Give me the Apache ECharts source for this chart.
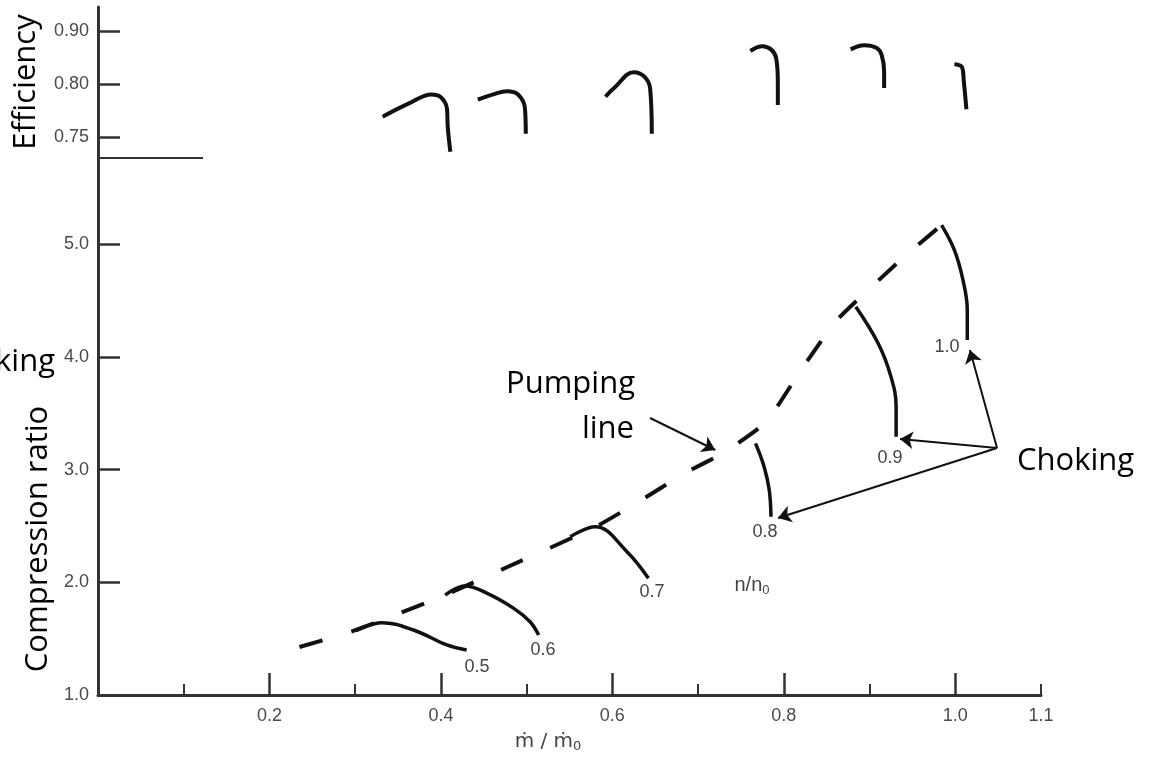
<!DOCTYPE html>
<html>
<head>
<meta charset="utf-8">
<title>Compressor map</title>
<script src="https://cdn.jsdelivr.net/npm/echarts@6/dist/echarts.min.js"></script>
<style>
html,body{margin:0;padding:0;background:#fff;}
#mapWrap{width:1155px;height:760px;}
</style>
</head>
<body>
<div id="mapWrap"></div>
<script>
// speed lines n/n0
var speedNames = ['0.5','0.6','0.7','0.8','0.9','1.0'];

// compression ratio lines, [m/m0, ratio]
var pr05 = [[0.301,1.571],[0.331,1.642],[0.368,1.577],[0.407,1.444],[0.430,1.399]];
var pr06 = [[0.405,1.887],[0.428,1.967],[0.454,1.902],[0.485,1.769],[0.504,1.650],[0.514,1.532]];
var pr07 = [[0.551,2.405],[0.580,2.493],[0.617,2.272],[0.642,2.036]];
var pr08 = [[0.767,3.233],[0.777,3.026],[0.783,2.819],[0.785,2.582]];
var pr09 = [[0.884,4.446],[0.910,4.121],[0.925,3.824],[0.931,3.558],[0.931,3.292]];
var pr10 = [[0.984,5.170],[0.999,4.948],[1.009,4.682],[1.014,4.416],[1.014,4.150]];

// pumping (surge) line
var pumpLine = [[0.235,1.426],[0.301,1.577],[0.405,1.887],[0.475,2.127],[0.580,2.491],[0.630,2.712],
	[0.685,2.970],[0.729,3.147],[0.779,3.422],[0.820,3.884],[0.859,4.301],[0.876,4.434],[0.940,4.886],[0.984,5.170]];

// efficiency lines, [m/m0, efficiency]
var eta05 = [[0.332,0.769],[0.364,0.782],[0.389,0.790],[0.399,0.788],[0.407,0.777],[0.408,0.759],[0.411,0.736]];
var eta06 = [[0.443,0.785],[0.461,0.790],[0.477,0.793],[0.490,0.790],[0.498,0.777],[0.499,0.753]];
var eta07 = [[0.592,0.788],[0.602,0.796],[0.625,0.822],[0.637,0.814],[0.644,0.796],[0.646,0.753]];
var eta08 = [[0.761,0.862],[0.775,0.871],[0.785,0.865],[0.791,0.849],[0.793,0.804],[0.793,0.780]];
var eta09 = [[0.878,0.865],[0.894,0.873],[0.908,0.868],[0.914,0.855],[0.917,0.823],[0.917,0.796]];
var eta10 = [[0.999,0.837],[1.008,0.831],[1.010,0.804],[1.013,0.776]];

// ticks
var xMajor = [0.2,0.4,0.6,0.8,1.0];
var xLabels = [0.2,0.4,0.6,0.8,1.0,1.1];
var xMinor = [0.1,0.3,0.5,0.7,0.9,1.1];
var prTicks = [1.0,2.0,3.0,4.0,5.0];
var etaTicks = [0.75,0.80,0.90];

var prLines = [pr05,pr06,pr07,pr08,pr09,pr10];
var etaLines = [eta05,eta06,eta07,eta08,eta09,eta10];

// the efficiency scale of the original is uneven: ticks sit at equal steps
var etaToAxis = function(e){
	var i = e <= etaTicks[1] ? 0 : 1;
	return i + (e - etaTicks[i]) / (etaTicks[i+1] - etaTicks[i]);
};

var initChart = function(){
	var myChart = echarts.init(document.getElementById('mapWrap'), null, {renderer:'canvas'});
	var ink = '#111';
	var axisInk = '#333';
	var tickFont = {color:'#4a4a4a', fontSize:18, fontFamily:'Liberation Sans'};

	var series = [];
	// compression ratio lines
	prLines.forEach(function(d, i){
		series.push({
			name:'n/n0 ' + speedNames[i], type:'line', xAxisIndex:1, yAxisIndex:1,
			data:d, showSymbol:false, symbol:'none', smooth:0.4,
			lineStyle:{color:ink, width:3.5}
		});
	});
	// efficiency lines
	etaLines.forEach(function(d, i){
		series.push({
			name:'eta ' + speedNames[i], type:'line', xAxisIndex:0, yAxisIndex:0,
			data:d.map(function(p){ return [p[0], etaToAxis(p[1])]; }),
			showSymbol:false, symbol:'none', smooth:0.4,
			lineStyle:{color:ink, width:4}
		});
	});
	// surge line
	series.push({
		name:'Pumping line', type:'line', xAxisIndex:1, yAxisIndex:1,
		data:pumpLine, showSymbol:false, symbol:'none', smooth:0.2,
		lineStyle:{color:ink, width:4, type:[24,30], cap:'butt'}
	});
	// pointer arrows (pumping line, choking)
	series.push({
		name:'arrows', type:'lines', coordinateSystem:'cartesian2d', xAxisIndex:1, yAxisIndex:1,
		silent:true, symbol:['none','arrow'], symbolSize:13,
		lineStyle:{color:ink, width:2, opacity:1},
		data:[
			{coords:[[0.644,3.458],[0.720,3.174]]},
			{coords:[[1.0487,3.192],[1.0171,4.061]]},
			{coords:[[1.0487,3.192],[0.9355,3.271]]},
			{coords:[[1.0487,3.192],[0.7932,2.571]]}
		]
	});
	// short rule under the efficiency panel
	series.push({
		name:'sep', type:'lines', coordinateSystem:'cartesian2d', xAxisIndex:0, yAxisIndex:0,
		silent:true, symbol:'none',
		lineStyle:{color:axisInk, width:2, opacity:1},
		data:[{coords:[[0,-0.4],[0.1225,-0.4]]}]
	});

	// text on the picture
	var txt = function(x, y, s, opt){
		var st = {text:s, fill:'#000', font:'31px "Open Sans"', align:'center', verticalAlign:'middle'};
		var rot = 0;
		for (var k in (opt || {})) {
			if (k === 'rot') rot = opt[k]; else st[k] = opt[k];
		}
		return {type:'text', x:x, y:y, rotation:rot, style:st, silent:true};
	};
	var small = '18px "Liberation Sans"';
	var graphics = [
		txt(26, 82, 'Efficiency', {rot:Math.PI/2}),
		txt(38, 539, 'Compression ratio', {rot:Math.PI/2}),
		txt(55, 362, 'Choking', {align:'right'}),
		txt(635, 384, 'Pumping', {align:'right'}),
		txt(634, 429, 'line', {align:'right'}),
		txt(1017, 461, 'Choking', {align:'left'}),
		txt(477, 667, speedNames[0], {font:small, fill:'#444'}),
		txt(543, 650, speedNames[1], {font:small, fill:'#444'}),
		txt(652, 592, speedNames[2], {font:small, fill:'#444'}),
		txt(765, 532, speedNames[3], {font:small, fill:'#444'}),
		txt(890, 458, speedNames[4], {font:small, fill:'#444'}),
		txt(947, 347, speedNames[5], {font:small, fill:'#444'}),
		{type:'text', x:752, y:585, silent:true, style:{
			text:'{a|n/n}{b|0}', align:'center', verticalAlign:'middle',
			rich:{a:{fontSize:20, fontFamily:'Liberation Sans', fill:'#444'},
				b:{fontSize:13, fontFamily:'Liberation Sans', fill:'#444', padding:[10,0,0,0]}}
		}},
		{type:'text', x:548, y:742, silent:true, style:{
			text:'{a|\u1E41 / \u1E41}{b|0}', align:'center', verticalAlign:'middle',
			rich:{a:{fontSize:20, fontFamily:'DejaVu Sans', fill:'#444'},
				b:{fontSize:13, fontFamily:'DejaVu Sans', fill:'#444', padding:[10,0,0,0]}}
		}}
	];

	var dataOption = {
		backgroundColor:'#fff',
		animation:false,
		grid:[
			{left:98, top:7, width:943, height:151},
			{left:98, top:158, width:943, height:537}
		],
		xAxis:[
			{gridIndex:0, type:'value', min:0, max:1.1, show:false},
			{
				gridIndex:1, type:'value', min:0, max:1.1, position:'bottom',
				axisLine:{onZero:false, lineStyle:{color:axisInk, width:3}},
				axisTick:{inside:true, length:22, customValues:xMajor, lineStyle:{color:axisInk, width:2.5}},
				axisLabel:{customValues:xLabels, margin:12, formatter:function(v){ return v.toFixed(1); },
					color:tickFont.color, fontSize:tickFont.fontSize, fontFamily:tickFont.fontFamily},
				splitLine:{show:false}
			},
			{
				gridIndex:1, type:'value', min:0, max:1.1, position:'bottom',
				axisLine:{show:false, onZero:false},
				axisTick:{inside:true, length:11, customValues:xMinor, lineStyle:{color:axisInk, width:2}},
				axisLabel:{show:false}, splitLine:{show:false}
			}
		],
		yAxis:[
			{
				gridIndex:0, type:'value', min:-0.4, max:2.45,
				axisLine:{show:true, onZero:false, lineStyle:{color:axisInk, width:3}},
				axisTick:{show:true, inside:true, length:22, customValues:[0,1,2], lineStyle:{color:axisInk, width:2.5}},
				axisLabel:{customValues:[0,1,2], margin:9, formatter:function(v){ return etaTicks[Math.round(v)].toFixed(2); },
					color:tickFont.color, fontSize:tickFont.fontSize, fontFamily:tickFont.fontFamily},
				splitLine:{show:false}
			},
			{
				gridIndex:1, type:'value', min:1, max:5.765,
				axisLine:{show:true, onZero:false, lineStyle:{color:axisInk, width:3}},
				axisTick:{show:true, inside:true, length:22, customValues:prTicks.slice(1), lineStyle:{color:axisInk, width:2.5}},
				axisLabel:{customValues:prTicks, margin:9, formatter:function(v){ return v.toFixed(1); },
					color:tickFont.color, fontSize:tickFont.fontSize, fontFamily:tickFont.fontFamily},
				splitLine:{show:false}
			}
		],
		series:series,
		graphic:graphics
	};

	myChart.setOption(dataOption);
};

window.onload = function(){
	initChart();
};
</script>
</body>
</html>
